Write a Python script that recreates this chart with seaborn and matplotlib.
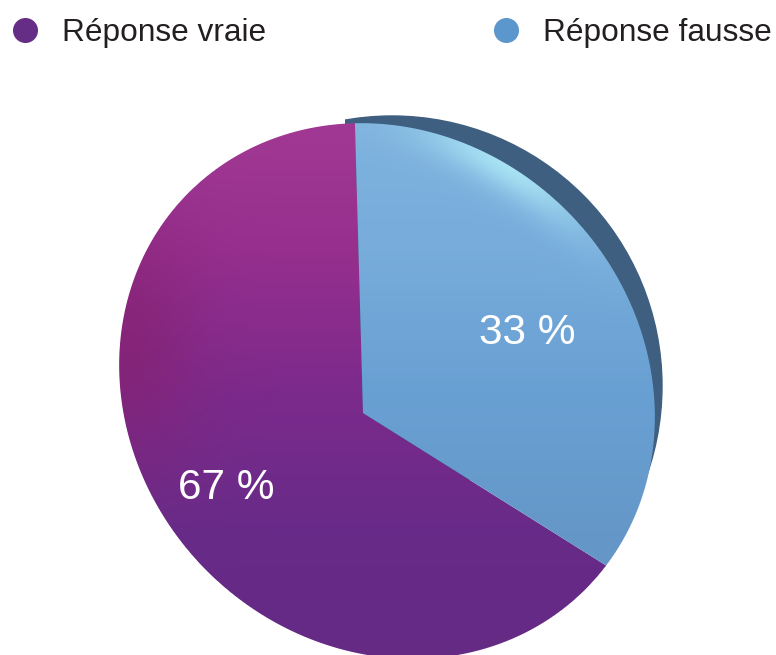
"""Pie chart of true and false answers, with a soft shaded look."""

import numpy as np
import matplotlib.pyplot as plt
from matplotlib.colors import LinearSegmentedColormap, to_rgb
from matplotlib.lines import Line2D
from matplotlib.patches import Ellipse, Rectangle
from matplotlib.transforms import Affine2D
import seaborn as sns

labels = ["Réponse vraie", "Réponse fausse"]
values = [67, 33]
value_texts = ["67 %", "33 %"]
legend_colors = ["#662d86", "#5b97cc"]

W, H = 776, 655
VERTEX = (363, H - 413)
DISC = (387, H - 391, 562, 510, -45)  # x, y, major, minor, angle
START_ANGLE = 91.6
EDGE_ANGLE = -32.1  # where the tilted disc puts the lower slice edge


def disc_coords():
    # pixel grid, plus the normalised radius and the angle inside the disc
    xs, ys = np.meshgrid(np.arange(W) + 0.5, np.arange(H) + 0.5)
    th = np.deg2rad(DISC[4])
    dx, dy = xs - DISC[0], ys - DISC[1]
    u = dx * np.cos(th) + dy * np.sin(th)
    v = -dx * np.sin(th) + dy * np.cos(th)
    rho = np.sqrt((u / (DISC[2] / 2)) ** 2 + (v / (DISC[3] / 2)) ** 2)
    return xs, ys, rho, np.degrees(np.arctan2(dy, dx))


def blend(rgba, color, amount):
    rgba[..., :3] = rgba[..., :3] * (1 - amount[..., None]) + np.array(to_rgb(color)) * amount[..., None]


def shaded_wedge(ax, wedge, colors, accent):
    # top to bottom gradient filling one wedge, cut to the outline of the disc
    xs, ys, rho, ang = disc_coords()
    t = 0.5 - (ys - DISC[1]) / 560
    cmap = LinearSegmentedColormap.from_list("shade", colors)
    rgba = cmap(np.clip(t, 0, 1))
    accent(rgba, xs, ys, rho, ang)
    rgba[..., 3] = np.clip((1 - rho) * 280, 0, 1)
    im = ax.imshow(rgba, extent=(0, W, 0, H), origin="lower", zorder=3,
                   interpolation="bilinear")
    im.set_clip_path(wedge)
    wedge.set_visible(False)


def purple_accent(rgba, xs, ys, rho, ang):
    # darker magenta patch along the left rim
    py = H - ys
    blend(rgba, "#86206c", 0.6 * np.exp(-((xs - 125) / 70) ** 2 - ((py - 345) / 120) ** 2))


def blue_accent(rgba, xs, ys, rho, ang):
    # pale highlight under the upper right rim
    blend(rgba, "#a8e2f4", np.exp(-((1 - rho) / 0.1) ** 2 - ((ang - 62) / 20) ** 2))


def main():
    sns.set_theme(style="white")
    plt.rcParams["font.family"] = ["Liberation Sans", "DejaVu Sans"]

    fig = plt.figure(figsize=(W / 100, H / 100), dpi=100)
    ax = fig.add_axes([0, 0, 1, 1])

    # the slices meet off-centre, so the pie is oversized and cut to the disc
    wedges, _ = ax.pie(values, startangle=START_ANGLE, center=VERTEX, radius=800,
                       colors=legend_colors)

    # shear about the vertex so the lower edge follows the tilted disc
    a1 = np.deg2rad(START_ANGLE)
    a2 = np.deg2rad(START_ANGLE + 360 * values[0] / sum(values))
    a3 = np.deg2rad(EDGE_ANGLE)
    before = np.array([[np.cos(a1), np.cos(a2)], [np.sin(a1), np.sin(a2)]])
    after = np.array([[np.cos(a1), np.cos(a3)], [np.sin(a1), np.sin(a3)]])
    m = np.eye(3)
    m[:2, :2] = after @ np.linalg.inv(before)
    tilt = (Affine2D().translate(-VERTEX[0], -VERTEX[1]) + Affine2D(m)
            + Affine2D().translate(*VERTEX))
    for w in wedges:
        w.set_transform(tilt + ax.transData)

    # dark rim shows only behind the upper right of the disc
    rim = Ellipse((392, H - 386), 540, 540, color="#3f5f80", zorder=1)
    ax.add_patch(rim)
    rim.set_clip_path(Rectangle((345, H - 480), W, H, transform=ax.transData))

    shaded_wedge(ax, wedges[0],
                 ["#a23a94", "#962f8e", "#7c2a8c", "#682b88", "#642a84"], purple_accent)
    shaded_wedge(ax, wedges[1],
                 ["#80b3de", "#77acdb", "#69a0d3", "#6598c9", "#6396c7"], blue_accent)
    ax.set_xlim(0, W)
    ax.set_ylim(0, H)
    ax.set_aspect("equal")
    ax.axis("off")

    ax.text(226, H - 488, value_texts[0], color="white", fontsize=30.5,
            ha="center", va="center", zorder=5)
    ax.text(527, H - 333, value_texts[1], color="white", fontsize=30.5,
            ha="center", va="center", zorder=5)

    handles = [Line2D([], [], ls="", marker="o", ms=17, color=c) for c in legend_colors]
    fig.legend(handles, labels, ncol=2, frameon=False, fontsize=22.8, labelcolor="#231f20",
               loc="upper left", bbox_to_anchor=(9 / W, 1 - 18 / H), columnspacing=7.07,
               handlelength=1, handletextpad=0.67, borderaxespad=0, borderpad=0)

    fig.savefig("out.png", dpi=100)


if __name__ == "__main__":
    main()
